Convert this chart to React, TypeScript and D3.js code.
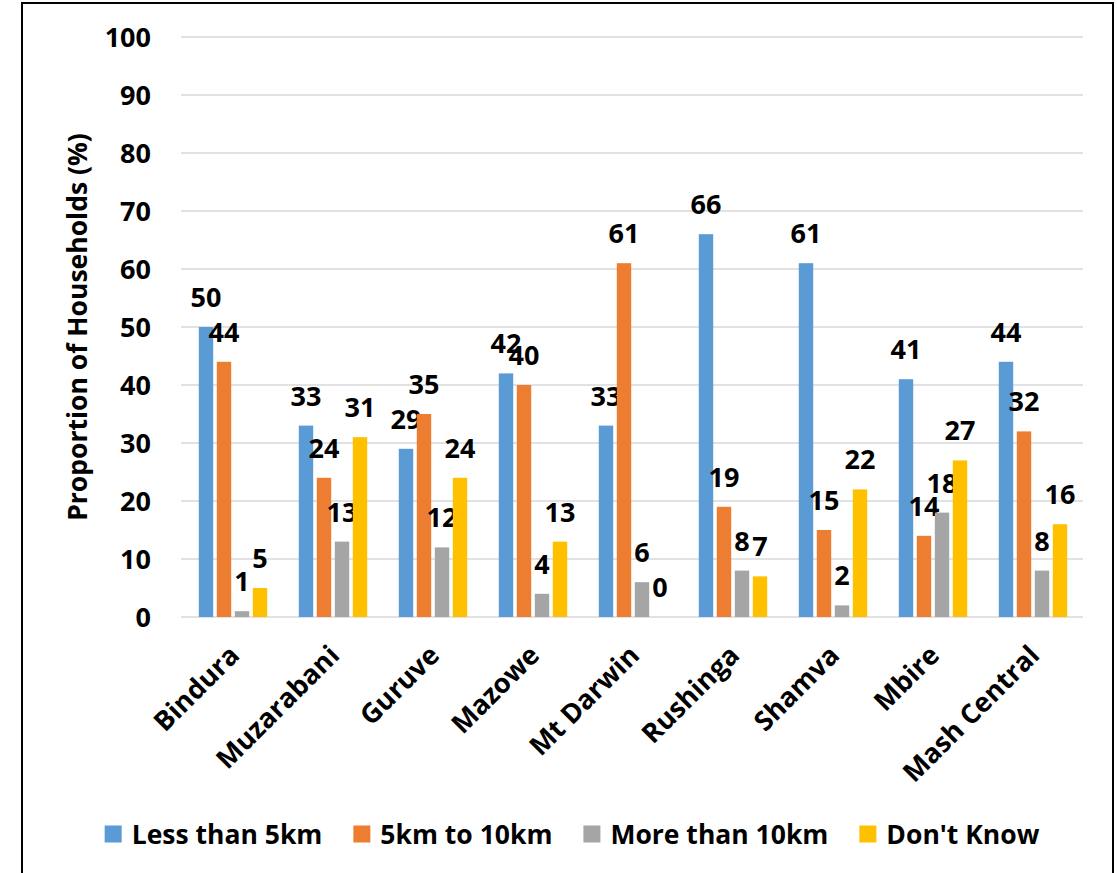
import React, { useEffect, useRef } from "react";
import * as d3 from "d3";

// Districts of Mashonaland Central plus the provincial total
const districts = [
  "Bindura",
  "Muzarabani",
  "Guruve",
  "Mazowe",
  "Mt Darwin",
  "Rushinga",
  "Shamva",
  "Mbire",
  "Mash Central",
];

// Distance categories shown as bar series
const seriesNames = ["Less than 5km", "5km to 10km", "More than 10km", "Don't Know"];

// Proportion of households (%) per distance category
const lessThan5km = [50, 33, 29, 42, 33, 66, 61, 41, 44];
const from5to10km = [44, 24, 35, 40, 61, 19, 15, 14, 32];
const moreThan10km = [1, 13, 12, 4, 6, 8, 2, 18, 8];
const dontKnow = [5, 31, 24, 13, 0, 7, 22, 27, 16];

const yTicks = [0, 10, 20, 30, 40, 50, 60, 70, 80, 90, 100];

const seriesColors = ["#5B9BD5", "#ED7D31", "#A5A5A5", "#FFC000"];

const WIDTH = 1117;
const HEIGHT = 873;
const FONT = "'Open Sans', 'Noto Sans', sans-serif";

export default function App() {
  const ref = useRef<SVGSVGElement | null>(null);

  useEffect(() => {
    const svg = d3.select(ref.current);
    svg.selectAll("*").remove();

    const values = [lessThan5km, from5to10km, moreThan10km, dontKnow];

    const plot = { left: 183, right: 1083, top: 37, bottom: 617 };

    const x0 = d3
      .scaleBand<string>()
      .domain(districts)
      .range([plot.left, plot.right])
      .paddingInner(0.28)
      .paddingOuter(0.14);

    const x1 = d3
      .scaleBand<string>()
      .domain(seriesNames)
      .range([0, x0.bandwidth()])
      .paddingInner(0.2)
      .paddingOuter(0.1);

    const y = d3.scaleLinear().domain([0, 100]).range([plot.bottom, plot.top]);

    // Outer chart frame
    svg
      .append("rect")
      .attr("x", 22)
      .attr("y", 3)
      .attr("width", 1091)
      .attr("height", 900)
      .attr("fill", "white")
      .attr("stroke", "#000")
      .attr("stroke-width", 2);

    // Gridlines
    svg
      .append("g")
      .selectAll("line")
      .data(yTicks)
      .join("line")
      .attr("x1", plot.left - 2)
      .attr("x2", plot.right)
      .attr("y1", (d) => y(d))
      .attr("y2", (d) => y(d))
      .attr("stroke", "#D9D9D9")
      .attr("stroke-width", 1.5);

    // Y tick labels
    svg
      .append("g")
      .selectAll("text")
      .data(yTicks)
      .join("text")
      .attr("x", 151)
      .attr("y", (d) => y(d))
      .attr("dy", "0.36em")
      .attr("text-anchor", "end")
      .attr("font-family", FONT)
      .attr("font-weight", 700)
      .attr("font-size", 27)
      .attr("fill", "#000")
      .text((d) => d);

    // Y axis title
    svg
      .append("text")
      .attr("transform", `translate(78, ${(plot.top + plot.bottom) / 2}) rotate(-90)`)
      .attr("text-anchor", "middle")
      .attr("dy", "0.35em")
      .attr("font-family", FONT)
      .attr("font-weight", 700)
      .attr("font-size", 26.5)
      .attr("fill", "#000")
      .text("Proportion of Households (%)");

    // Bars and data labels
    const groups = svg
      .append("g")
      .selectAll("g")
      .data(districts)
      .join("g")
      .attr("transform", (d) => `translate(${x0(d)},0)`);

    const cells = groups
      .selectAll("g")
      .data((_d, i) =>
        seriesNames.map((s, k) => ({ series: s, value: values[k][i], k }))
      )
      .join("g");

    cells
      .append("rect")
      .attr("x", (d) => x1(d.series)!)
      .attr("y", (d) => y(d.value))
      .attr("width", x1.bandwidth())
      .attr("height", (d) => y(0) - y(d.value))
      .attr("fill", (d) => seriesColors[d.k]);

    cells
      .append("text")
      .attr("x", (d) => x1(d.series)! + x1.bandwidth() / 2)
      .attr("y", (d) => y(d.value) - 20)
      .attr("text-anchor", "middle")
      .attr("font-family", FONT)
      .attr("font-weight", 700)
      .attr("font-size", 27)
      .attr("fill", "#000")
      .text((d) => d.value);

    // Category labels, rotated
    svg
      .append("g")
      .selectAll("text")
      .data(districts)
      .join("text")
      .attr(
        "transform",
        (d) => `translate(${x0(d)! + x0.bandwidth() / 2 + 8}, 657) rotate(-45)`
      )
      .attr("text-anchor", "end")
      .attr("font-family", FONT)
      .attr("font-weight", 700)
      .attr("font-size", 27)
      .attr("fill", "#000")
      .text((d) => d);

    // Legend, centred under the chart
    const legend = svg.append("g");
    const sw = 17;
    const gapSwatchText = 10;
    const gapItems = 31;
    let cursor = 0;
    seriesNames.forEach((name, k) => {
      const item = legend.append("g").attr("transform", `translate(${cursor},0)`);
      item
        .append("rect")
        .attr("x", 0)
        .attr("y", -sw / 2)
        .attr("width", sw)
        .attr("height", sw)
        .attr("fill", seriesColors[k]);
      const t = item
        .append("text")
        .attr("x", sw + gapSwatchText)
        .attr("y", 0)
        .attr("dy", "0.36em")
        .attr("font-family", FONT)
        .attr("font-weight", 700)
        .attr("font-size", 26.5)
        .attr("fill", "#000")
        .text(name);
      const w = (t.node() as SVGTextElement).getComputedTextLength();
      cursor += sw + gapSwatchText + w + gapItems;
    });
    const total = cursor - gapItems;
    legend.attr("transform", `translate(${572 - total / 2}, 834)`);
  }, []);

  return (
    <svg
      ref={ref}
      width={WIDTH}
      height={HEIGHT}
      style={{ position: "absolute", left: 0, top: 0, background: "white" }}
    />
  );
}
